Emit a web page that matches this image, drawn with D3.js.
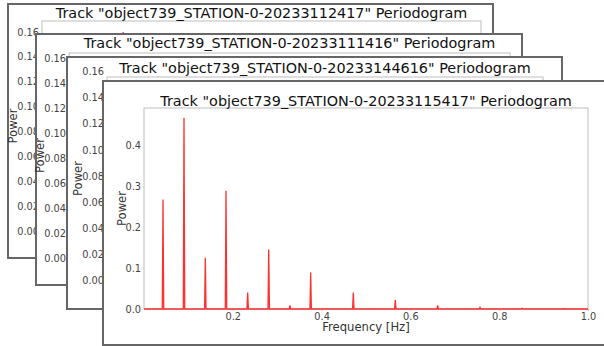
<!DOCTYPE html>
<html>
<head>
<meta charset="utf-8">
<script src="https://cdn.jsdelivr.net/npm/d3@7"></script>
<style>
  html, body { margin: 0; padding: 0; background: #fff; }
  svg { display: block; }
  text { font-family: "DejaVu Sans", sans-serif; }
</style>
</head>
<body>
<svg id="chart" width="604" height="346"></svg>
<script>
// Periodogram titles, back to front
const titles = [
  'Track "object739_STATION-0-20233112417" Periodogram',
  'Track "object739_STATION-0-20233111416" Periodogram',
  'Track "object739_STATION-0-20233144616" Periodogram',
  'Track "object739_STATION-0-20233115417" Periodogram'
];

// Peak frequencies (Hz) and powers for each track
const freq1  = [0.046, 0.093, 0.139, 0.185, 0.232, 0.278, 0.325, 0.371, 0.464, 0.557, 0.650, 0.743];
const power1 = [0.060, 0.120, 0.035, 0.160, 0.018, 0.085, 0.006, 0.050, 0.025, 0.012, 0.005, 0.002];

const freq2  = [0.044, 0.089, 0.133, 0.178, 0.222, 0.267, 0.311, 0.356, 0.444, 0.533, 0.622, 0.711];
const power2 = [0.090, 0.150, 0.040, 0.110, 0.015, 0.070, 0.005, 0.045, 0.022, 0.010, 0.004, 0.002];

const freq3  = [0.045, 0.091, 0.136, 0.182, 0.227, 0.273, 0.318, 0.364, 0.455, 0.545, 0.636, 0.727];
const power3 = [0.080, 0.145, 0.038, 0.120, 0.016, 0.075, 0.006, 0.048, 0.024, 0.011, 0.005, 0.002];

const freq4  = [0.0428, 0.0901, 0.1381, 0.1847, 0.2335, 0.2809, 0.3288, 0.3754, 0.4714, 0.5660, 0.6615, 0.7568, 0.8514, 0.9459];
const power4 = [0.267, 0.466, 0.125, 0.288, 0.040, 0.145, 0.009, 0.089, 0.040, 0.022, 0.009, 0.004, 0.002, 0.001];

const yTicksSmall = [0, 0.02, 0.04, 0.06, 0.08, 0.10, 0.12, 0.14, 0.16];
const yTicksLarge = [0, 0.1, 0.2, 0.3, 0.4];
const xTicks = [0.2, 0.4, 0.6, 0.8, 1.0];

// Card frames and plot boxes
const cards = [
  { box: [8, 4, 485, 254],   plot: { l: 42,  r: 481, t: 21,  b: 231 }, ymax: 0.1688, yticks: yTicksSmall, fmt: ".2f", titleY: 18,  freq: freq1, power: power1 },
  { box: [36, 34, 486, 251], plot: { l: 69,  r: 510, t: 53,  b: 258 }, ymax: 0.164,  yticks: yTicksSmall, fmt: ".2f", titleY: 48,  freq: freq2, power: power2 },
  { box: [67, 57, 495, 252], plot: { l: 107, r: 543, t: 77,  b: 280 }, ymax: 0.156,  yticks: yTicksSmall, fmt: ".2f", titleY: 73,  freq: freq3, power: power3 },
  { box: [103, 81, 530, 264],plot: { l: 144, r: 588, t: 108, b: 309 }, ymax: 0.49,   yticks: yTicksLarge, fmt: ".1f", titleY: 106, freq: freq4, power: power4 }
];

const svg = d3.select("#chart");
svg.append("rect").attr("width", 604).attr("height", 346).attr("fill", "#fff");

const halfWidth = 0.0016; // spike half-width in Hz

cards.forEach((c, i) => {
  const g = svg.append("g");
  const [bx, by, bw, bh] = c.box;
  g.append("rect")
    .attr("x", bx).attr("y", by).attr("width", bw).attr("height", bh)
    .attr("fill", "#fff").attr("stroke", "#666").attr("stroke-width", 2);

  const p = c.plot;
  const x = d3.scaleLinear().domain([0, 1]).range([p.l, p.r]);
  const y = d3.scaleLinear().domain([0, c.ymax]).range([p.b, p.t]);

  // spines
  g.append("rect")
    .attr("x", p.l).attr("y", p.t).attr("width", p.r - p.l).attr("height", p.b - p.t)
    .attr("fill", "none").attr("stroke", "#bdbdbd").attr("stroke-width", 1);

  // axes
  const yAxis = d3.axisLeft(y).tickValues(c.yticks).tickFormat(d3.format(c.fmt)).tickSize(0).tickPadding(3);
  const ya = g.append("g").attr("transform", `translate(${p.l},0)`).call(yAxis);
  const xAxis = d3.axisBottom(x).tickValues(xTicks).tickFormat(d3.format(".1f")).tickSize(2).tickPadding(2);
  const xa = g.append("g").attr("transform", `translate(0,${p.b})`).call(xAxis);
  [ya, xa].forEach(a => {
    a.select(".domain").remove();
    a.selectAll(".tick line").attr("stroke", "#bdbdbd");
    a.selectAll(".tick text").attr("fill", "#444").style("font-size", "9.8px").style("font-family", "DejaVu Sans, sans-serif");
  });

  // periodogram trace
  const pts = [[0, 0]];
  c.freq.forEach((f, k) => {
    pts.push([f - halfWidth, 0], [f, c.power[k]], [f + halfWidth, 0]);
  });
  pts.push([1, 0]);
  const line = d3.line().x(d => x(d[0])).y(d => y(d[1]));
  g.append("path")
    .attr("d", line(pts))
    .attr("fill", "none").attr("stroke", "#ff1a1a").attr("stroke-width", 1.3)
    .attr("stroke-opacity", 0.9).attr("stroke-linejoin", "miter");

  // labels
  const cx = (p.l + p.r) / 2;
  g.append("text")
    .attr("x", cx).attr("y", c.titleY)
    .attr("text-anchor", "middle").attr("fill", "#111")
    .style("font-size", "14.4px")
    .text(titles[i]);
  g.append("text")
    .attr("x", cx).attr("y", p.b + 22)
    .attr("text-anchor", "middle").attr("fill", "#333")
    .style("font-size", "11.6px")
    .text("Frequency [Hz]");
  const labelOffset = i === 3 ? 22 : 29;
  g.append("text")
    .attr("transform", `translate(${p.l - labelOffset},${(p.t + p.b) / 2}) rotate(-90)`)
    .attr("text-anchor", "middle").attr("dy", "0.35em").attr("fill", "#333")
    .style("font-size", "11.6px")
    .text("Power");
});
</script>
</body>
</html>
